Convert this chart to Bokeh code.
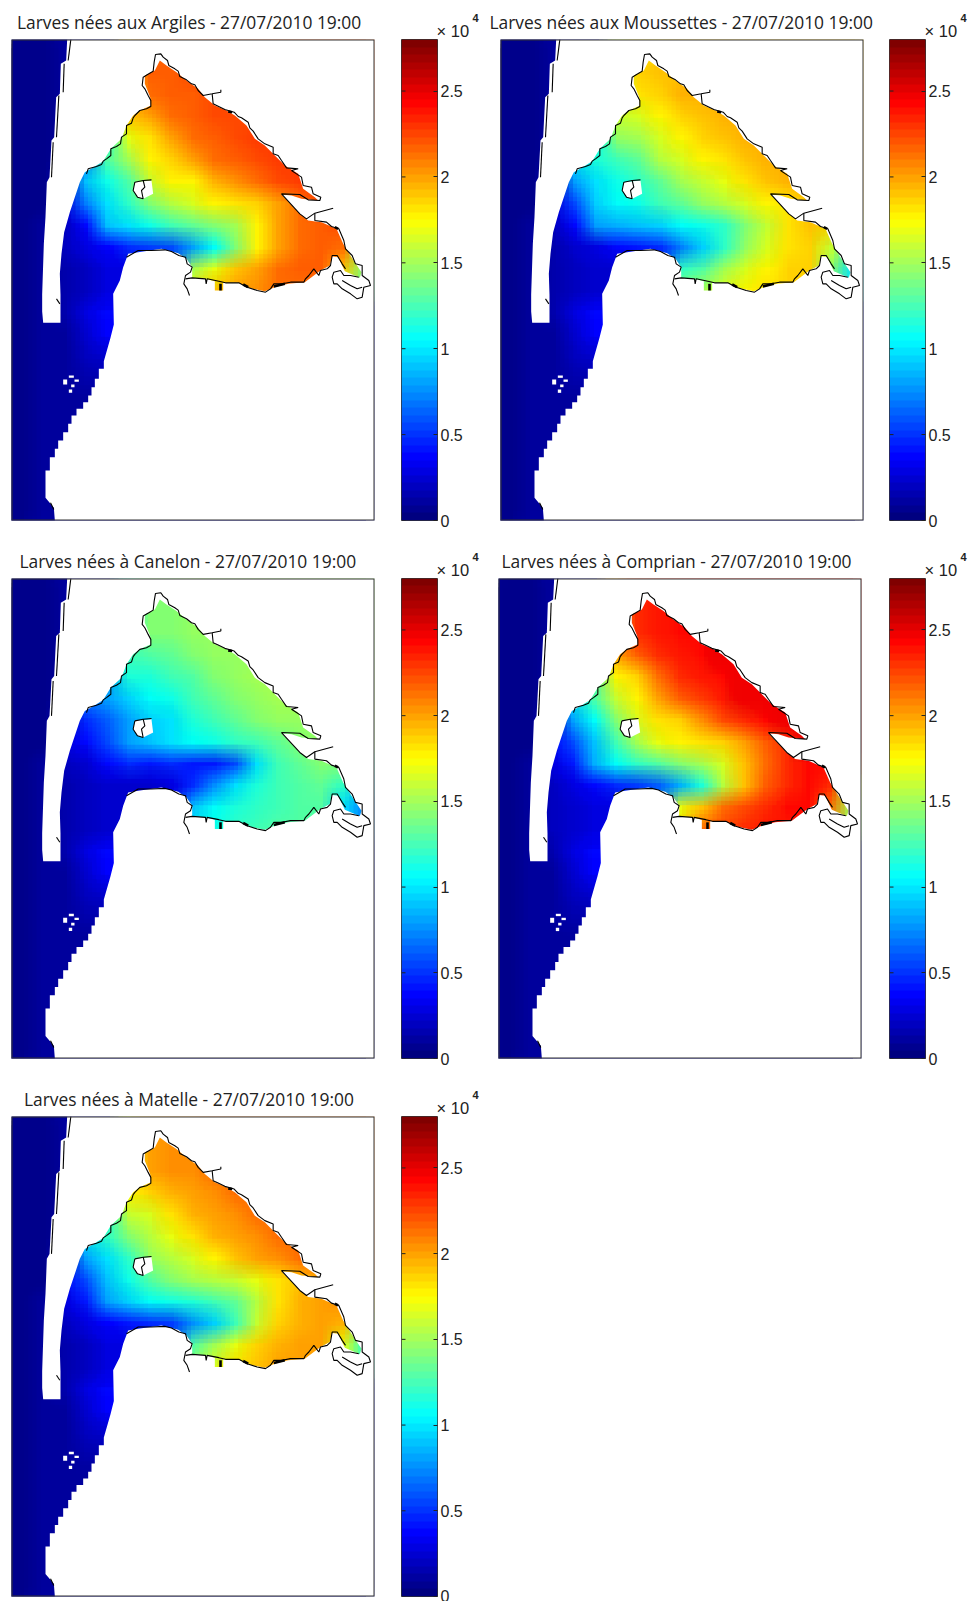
import numpy as np
from bokeh.plotting import figure
from bokeh.layouts import column, row
from bokeh.models import LinearColorMapper, Range1d, FixedTicker, Title
from bokeh.embed import file_html
from bokeh.resources import INLINE

# Larvae counts in thousands on a coarse 17 x 22 lattice.
ARGILES = [
 [.5,.8,1,1,1,19,21,21.5,21.5,22,22,22,22,22,22,22,22],
 [.5,.8,1,1,1,19,21.5,21.5,22,22,22,22,22,22,22,22,22],
 [.5,.8,1,1,1,19,21,21.5,21.5,22,22,22,22,22,22,22,22],
 [.5,.8,1,1,15,19,20,21,21.5,22,22,22,22,22,22,22,22],
 [.5,.8,1,1,12,17,18,20,21,21.5,22,22.5,22.5,22.5,22,22,22],
 [.5,.8,1,7,13,15,17.5,18.5,20,21,21.5,22,22.5,22.5,22,22,22],
 [.5,.8,2,9,11,13,16,17.5,17.5,19.5,20.5,21,22,22.5,22,22,22],
 [.5,.8,3,7,10,12,14,15.5,16.5,17.5,18,18.5,20,21,22,22,22],
 [.5,1,2,4,9,10,11,12.5,13.5,14,15,17.5,20,21,21.5,22,21],
 [.5,1,2,3,3.5,5,5.5,6,8,10.5,14,17.5,20,21,21.5,21,16],
 [.5,1,1.5,2,3,3,4,6,15,17,19,20,21,21.5,21.5,19,14],
 [.5,1,1.5,2,3,3,3,8,17,19,20,20.5,21,21,21,18,13],
]
MOUSSETTES = [
 [.5,.8,1,1,1,16,18,18.5,19,19,19,19,19,19,19,19,19],
 [.5,.8,1,1,1,16,18.5,19,19,19,19,19,19,19,19,19,19],
 [.5,.8,1,1,1,16,18,18.5,19.5,19.5,19.5,19.5,19.5,19.5,19.5,19.5,19.5],
 [.5,.8,1,1,14,16,16.5,17.5,18.5,19,19.5,19.5,19.5,19.5,19.5,19.5,19.5],
 [.5,.8,1,1,11,14.5,15,16.5,17.5,18.5,19,19.5,19.5,19.5,19.5,19.5,19.5],
 [.5,.8,1,10,11.5,12.5,13.5,15.5,16.5,17.5,18,19,19.5,19.5,19.5,19.5,19.5],
 [.5,.8,2,8,10,11,12,13.5,15,16,17,18,19,19.5,19.5,19.5,19.5],
 [.5,.8,3,6,9.5,10.5,11,12.5,13.5,14.5,15.5,16.5,17.5,18,19,19,19],
 [.5,1,2,4,8,8.5,9,9.5,10.5,11,12,14,16,18,19,18.5,17],
 [.5,1,1.5,2.5,3,4,4.5,5,7,9.5,12,14.5,16.5,18,18.5,16,12],
 [.5,1,1.5,2,2.5,2.5,3,5,12,13,15,16.5,17.5,18.5,18.5,14,10],
 [.5,1,1.5,2,2.5,2.5,2.5,7,14,15,16.5,17.5,18,18.5,18.5,14,10],
]
CANELON = [
 [.5,.8,1,1,1,12,14,14,14.5,14.5,14.5,14.5,14.5,14.5,14.5,14.5,14.5],
 [.5,.8,1,1,1,12,14,14,14.5,14.5,14.5,14.5,14.5,14.5,14.5,14.5,14.5],
 [.5,.8,1,1,1,12,14,14,14.5,14.5,14.5,14.5,14.5,14.5,14.5,14.5,14.5],
 [.5,.8,1,1,10,12.5,13,13.5,14,14.5,14.5,14.5,14.5,14.5,14.5,14.5,14.5],
 [.5,.8,1,1,8,11.5,11.5,12.5,13,14,14.5,15,15,15,15,15,15],
 [.5,.8,1,7,8,9.5,10.5,11,12.5,13.5,14,14.5,15,15,15,15,15],
 [.5,.8,2,5,6.5,8,9.5,10,11.5,12.5,13.5,14,14.5,14.5,14.5,14.5,14.5],
 [.5,.8,3,4,6,8,9,10,10.5,11,12,12.5,13.5,14,14.5,14.5,14.5],
 [.5,1,2,2.5,4,5,4.5,5,4.5,4.5,6,10,12.5,13.5,14,14,12],
 [.5,1,1.5,2,2.5,2.5,2.5,3,5,7.5,10,11.5,12.5,13,13.5,12,9],
 [.5,1,1.5,2,2.5,2.5,2.5,3,9,10.5,11.5,12,12.5,13,13,10,7],
 [.5,1,1.5,2,2.5,2.5,2.5,5,10,11,12,12.5,13,13,13,10,7],
]
COMPRIAN = [
 [.5,.8,1,1,1,20,23,23.5,23.5,24,24,24,24,24,24,24,24],
 [.5,.8,1,1,1,20,23,23.5,24,24,24,24,24,24,24,24,24],
 [.5,.8,1,1,1,20,23,23.5,24,24,24.5,24.5,24.5,24.5,24.5,24.5,24.5],
 [.5,.8,1,1,16,20,21.5,23,23.5,24,24.5,24.5,24.5,24.5,24.5,24.5,24.5],
 [.5,.8,1,1,13,17.5,18.5,21,23,23.5,24,24.5,24.5,24.5,24.5,24.5,24.5],
 [.5,.8,1,10,13,16,17.5,20,21.5,22.5,23.5,24.5,24.5,24.5,24.5,24.5,24.5],
 [.5,.8,2,8,10.5,14,16.5,18,18.5,20.5,22,23,24,24.5,24.5,24.5,24.5],
 [.5,.8,4,6,9,12.5,15,17,17.5,18,18.5,20,21.5,23,24.5,24.5,24.5],
 [.5,1,3,4.5,8.5,10.5,12,13,14,15,16.5,19,21,23,24,24,22],
 [.5,1,2,3,4,5,5.5,6.5,8.5,11.5,15.5,19,21.5,23,24,23,17],
 [.5,1,2,2.5,3,3,4,7,17,19,21,22,23,24,24,21,15],
 [.5,1,2,2.5,3,3,3,9,18,21,22,23,23.5,23.5,23.5,20,14],
]
MATELLE = [
 [.5,.8,1,1,1,17,20,20.5,20.5,21,21,21,21,21,21,21,21],
 [.5,.8,1,1,1,17,20,20.5,20.5,21,21,21,21,21,21,21,21],
 [.5,.8,1,1,1,17,20,20.5,20.5,21,21,21,21,21,21,21,21],
 [.5,.8,1,1,14,17.5,18.5,19.5,20,20.5,21,21,21,21,21,21,21],
 [.5,.8,1,1,12,16,16.5,18,19.5,20,20.5,21,21,21,21,21,21],
 [.5,.8,1,10,12,14,15.5,17,18,19.5,20,20.5,21,21,21,21,21],
 [.5,.8,2,8,10,12,14.5,15.5,16.5,17.5,19,20,20.5,21,21,21,21],
 [.5,.8,4,6,9,11,13,14,15,15.5,16,17,18,19,20,20,20],
 [.5,1,3,4.5,8,9.5,10.5,11,11.5,12.5,13.5,15.5,18,19.5,20,20.5,18],
 [.5,1,2,3,3.5,4.5,5,5.5,7.5,9.5,12.5,16,18.5,19.5,20,19.5,15],
 [.5,1,1.5,2,3,3,4,6,13,15,17,18.5,19.5,20,20,17,12],
 [.5,1,1.5,2,3,3,3,8,14,16.5,18,19,20,20,20,17,12],
]
# The outer-channel rows look the same on all five panels.
CHANNEL = [
 [.5,.9,1.5,3,4,4,4,4,4,4,4,4,4,4,4,4,4],
 [.5,.9,1.2,2.5,3.5,3.5,3.5,3.5,3.5,3.5,3.5,3.5,3.5,3.5,3.5,3.5,3.5],
 [.8,1,1.2,2,2.5,2.5,2.5,2.5,2.5,2.5,2.5,2.5,2.5,2.5,2.5,2.5,2.5],
 [.8,1,1.2,1.5,1.5,1.5,1.5,1.5,1.5,1.5,1.5,1.5,1.5,1.5,1.5,1.5,1.5],
 [.8,1,1.2,1.3,1.3,1.3,1.3,1.3,1.3,1.3,1.3,1.3,1.3,1.3,1.3,1.3,1.3],
 [.8,1,1,1,1,1,1,1,1,1,1,1,1,1,1,1,1],
 [.8,1,1,1,1,1,1,1,1,1,1,1,1,1,1,1,1],
 [.8,.9,1,1,1,1,1,1,1,1,1,1,1,1,1,1,1],
 [.8,.9,1,1,1,1,1,1,1,1,1,1,1,1,1,1,1],
 [.8,.9,1,1,1,1,1,1,1,1,1,1,1,1,1,1,1],
]
SITES = ["aux Argiles", "aux Moussettes", "à Canelon", "à Comprian", "à Matelle"]
DATE = "27/07/2010 19:00"
TICKS = [0, 5, 10, 15, 20, 25]
TICK_LABELS = {0: "0", 5: "0.5", 10: "1", 15: "1.5", 20: "2", 25: "2.5"}

# Map outlines, in map units (y grows southward).
WATER = [(-120,-3),(47,-3),(44,60),(28,70),(25,160),(14,170),(8,290),(0,300),(-6,410),(-14,425),(-18,529),(-23,610),(-28,762),(-28,813),(-25,847),
 (27,847),(27,762),(25,700),(30,640),(38,575),(55,515),(75,455),(85,425),(100,395),(130,378),(155,362),(178,325),(210,295),
 (225,255),(245,225),(265,210),(298,195),(296,170),(280,130),(280,105),(310,90),(325,60),(345,75),(375,95),(405,120),
 (440,145),(460,170),(490,195),(525,210),(550,225),(585,255),(610,295),(640,315),(670,345),(700,375),(740,400),(755,445),
 (790,470),(800,480),(750,475),(720,465),(690,462),(745,520),(770,540),(810,545),(855,565),(875,610),(900,650),(930,695),
 (925,712),(880,692),(860,650),(842,648),(835,675),(807,690),(760,725),(710,730),(670,740),(640,752),(590,742),(560,727),
 (515,727),(515,750),(490,750),(490,722),(460,715),(422,712),(422,680),(405,655),(380,638),(330,625),(260,635),(230,640),(215,680),(205,720),(185,760),
 (187,852),(177,892),(157,962),(157,985),(142,985),(142,1015),(130,1015),(130,1040),(120,1040),(120,1065),(110,1065),
 (110,1085),(95,1085),(95,1105),(75,1105),(75,1125),(60,1125),(60,1150),(50,1150),(50,1175),(35,1175),(35,1200),(20,1200),
 (20,1225),(10,1225),(10,1250),(-5,1250),(-5,1290),(-18,1290),(-18,1372),(7,1402),(10,1440),(-120,1440)]
BIRD_ISLAND = [(250,425),(300,420),(305,460),(275,475),(258,470),(245,450)]
ARGUIN = [(35,47,1017,1032),(52,67,1005,1012),(69,82,1017,1024),(52,62,1047,1057),(59,69,1032,1040)]
COAST = [
 [(105,400),(110,385),(135,378),(150,372),(155,362),(165,355),(178,345),(178,325),(195,318),(207,310),(210,290),(225,280),(225,255),
  (240,248),(245,232),(250,225),(265,210),(285,205),(298,198),(298,180),(290,165),(280,145),(272,135),(275,110),(292,100),(305,92),
  (308,65),(312,42),(328,40),(335,50),(348,60),(352,75),(370,85),(380,92),(385,108),(405,118),(420,130),(430,133),(440,150),(455,165),(482,160),(508,155),(508,148)],
 [(482,160),(485,190),(500,197),(520,207),(548,215),(560,228),(570,232),(590,245),(595,262),(605,272),(620,295),(640,310),(665,320),(665,340),(680,345),(690,360),
  (705,382),(740,385),(720,390),(735,400),(750,410),(755,435),(780,440),(785,460),(808,470),(805,480),(770,478),(745,462),(690,460),
  (745,520),(765,535),(790,518),(845,503)],
 [(790,518),(790,540),(825,545),(840,558),(862,565),(877,600),(882,625),(902,645),(912,670),(932,675),(932,705),(952,720),(957,735),
  (937,740),(932,770),(917,775),(897,760),(872,745),(857,730),(847,730),(842,710),(847,695),(867,690),(877,705),(897,705),(922,710)],
 [(872,720),(897,735),(917,745),(932,740)],
 [(882,685),(872,670),(857,645),(842,645),(837,675),(827,685),(807,690),(802,705),(787,685),(772,705),(762,715),(757,725),(717,725),
  (692,730),(667,730),(657,745),(642,755),(617,750),(587,740),(562,727),(522,727),(502,722),(467,715),(464,730),(462,715),(422,712),(402,715)],
 [(414,765),(407,745),(397,730),(402,705),(417,695),(422,680),(407,670),(402,650),(382,645),(360,633),(340,628),(300,630),(260,630),(225,650)],
 [(250,425),(245,450),(258,470),(275,475),(270,450),(280,440),(275,420),(300,418)],
 [(250,425),(275,420)],
 [(58,-3),(50,60)], [(38,70),(35,155)], [(22,165),(15,290)], [(5,305),(0,410)],
 [(15,775),(25,790)], [(-3,1387),(7,1407)],
]
THICK = [[(507,730),(507,750)], [(667,738),(700,730)], [(530,213),(542,215)], [(850,560),(860,565)], [(575,732),(590,740)]]

def jet(n=64):
    out = []
    for i in range(n):
        x = i / (n - 1)
        c = [max(0, min(1, min(4*x - a, -4*x + b))) for a, b in ((1.5, 4.5), (0.5, 3.5), (-0.5, 2.5))]
        out.append("#%02x%02x%02x" % tuple(int(round(v * 255)) for v in c))
    return out

JET = jet()
XMIN, XMAX, YTOP, YBOT = -120, 969, -3, 1440
FONT, INK = "Liberation Sans", "#222222"
LAYERS = 5  # per axis: offset translucent copies of the grid stand in for MATLAB's interpolated shading

def map_fig(grid, site, w, left, top, h, title_off):
    p = figure(width=w, height=h, output_backend="svg", toolbar_location=None,
               x_range=Range1d(XMIN, XMAX), y_range=Range1d(-YBOT, -YTOP),
               min_border_left=left, min_border_right=w - left - 363, min_border_top=top,
               min_border_bottom=h - top - 481)
    p.axis.visible = False
    p.grid.visible = False
    p.outline_line_color = None
    p.title.text = f"Larves nées {site} - {DATE}"
    p.title.text_font = "Open Sans"
    p.title.text_font_size = "17.4px"
    p.title.text_font_style = "normal"
    p.title.text_color = INK
    p.title.offset = title_off
    p.title.standoff = 12
    mapper = LinearColorMapper(palette=JET, low=0, high=28)
    field = np.array(grid + CHANNEL, dtype=float)[::-1]
    dw, dh = XMAX - XMIN, YBOT - YTOP
    cw, ch = dw / field.shape[1], dh / field.shape[0]
    p.image(image=[field], x=XMIN, y=-YBOT, dw=dw, dh=dh, color_mapper=mapper)
    k = 0
    for i in range(LAYERS):
        for j in range(LAYERS):
            k += 1
            ox = cw * ((i + .5) / LAYERS - .5)
            oy = ch * ((j + .5) / LAYERS - .5)
            p.image(image=[field], x=XMIN + ox, y=-YBOT + oy, dw=dw, dh=dh, color_mapper=mapper, global_alpha=1 / k)
    wx, wy = [a for a, _ in WATER], [-b for _, b in WATER]
    m = 60
    p.multi_polygons(xs=[[[[XMIN - m, XMAX + m, XMAX + m, XMIN - m], wx]]],
                     ys=[[[[-YTOP + m, -YTOP + m, -YBOT - m, -YBOT - m], wy]]],
                     fill_color="white", line_color=None)
    p.patch([a for a, _ in BIRD_ISLAND], [-b for _, b in BIRD_ISLAND], fill_color="white", line_color=None)
    p.quad(left=[a[0] for a in ARGUIN], right=[a[1] for a in ARGUIN],
           top=[-a[2] for a in ARGUIN], bottom=[-a[3] for a in ARGUIN], fill_color="white", line_color=None)
    p.multi_line(xs=[[a for a, _ in s] for s in COAST], ys=[[-b for _, b in s] for s in COAST],
                 line_color="black", line_width=1.1)
    p.multi_line(xs=[[a for a, _ in s] for s in THICK], ys=[[-b for _, b in s] for s in THICK],
                 line_color="black", line_width=2.6)
    p.line([XMIN, XMAX, XMAX, XMIN, XMIN], [-YTOP, -YTOP, -YBOT, -YBOT, -YTOP], line_color="#333333", line_width=2)
    return p

def bar_fig(w, left, top, h):
    p = figure(width=w, height=h, output_backend="svg", toolbar_location=None,
               x_range=Range1d(0, 36), y_range=Range1d(0, 28), x_axis_location=None, y_axis_location="right",
               min_border_left=left, min_border_right=w - left - 36, min_border_top=top,
               min_border_bottom=h - top - 483)
    p.grid.visible = False
    p.outline_line_color = "#333333"
    mapper = LinearColorMapper(palette=JET, low=0, high=28)
    levels = (np.arange(64) + 0.5) / 64 * 28
    p.image(image=[levels.reshape(64, 1)], x=0, y=0, dw=36, dh=28, color_mapper=mapper)
    p.segment(x0=[0] * len(TICKS), x1=[4] * len(TICKS), y0=TICKS, y1=TICKS, line_color=INK, line_width=1)
    ax = p.yaxis[0]
    ax.ticker = FixedTicker(ticks=TICKS)
    ax.major_label_overrides = TICK_LABELS
    ax.major_tick_in, ax.major_tick_out = 4, 0
    ax.minor_tick_line_color = None
    ax.axis_line_color = None
    ax.major_tick_line_color = INK
    ax.major_label_standoff = 3
    ax.major_label_text_font = FONT
    ax.major_label_text_font_size = "16px"
    ax.major_label_text_color = INK
    p.title.text = "4"
    p.title.text_font = FONT
    p.title.text_font_size = "11px"
    p.title.text_font_style = "bold"
    p.title.text_color = INK
    p.title.offset = 71
    p.title.standoff = -5
    p.add_layout(Title(text="× 10", text_font=FONT, text_font_size="16.5px", text_font_style="normal",
                       text_color=INK, offset=35, standoff=0), "above")
    return p

page = column(
    row(map_fig(ARGILES, SITES[0], 395, 11, 39, 540, 5.5), bar_fig(90, 6, 38, 540),
        map_fig(MOUSSETTES, SITES[1], 400, 15, 39, 540, -11), bar_fig(88, 4, 38, 540)),
    row(map_fig(CANELON, SITES[2], 395, 11, 37, 538, 8), bar_fig(90, 6, 36, 538),
        map_fig(COMPRIAN, SITES[3], 400, 13, 37, 538, 3), bar_fig(88, 4, 36, 538)),
    row(map_fig(MATELLE, SITES[4], 395, 11, 37, 523, 12.5), bar_fig(90, 6, 35, 523)),
    spacing=0)
open("out.html", "w").write(file_html(page, INLINE))
